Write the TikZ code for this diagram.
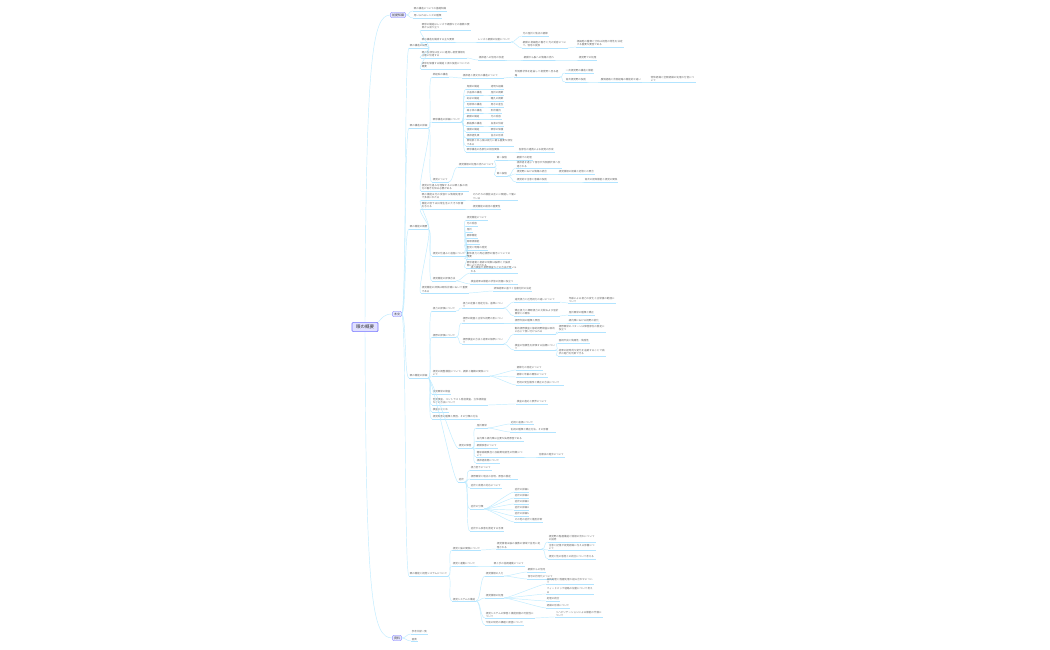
\documentclass[tikz,border=0pt]{standalone}
\usepackage{fontspec}
\newfontfamily\cjk{Noto Sans CJK JP}
\XeTeXlinebreaklocale "ja"
\XeTeXlinebreakskip=0pt plus 1pt
\begin{document}
\begin{tikzpicture}[x=1pt,y=-1pt,
 leaf/.style={anchor=south west,inner sep=0.6pt,font=\cjk\fontsize{2.5}{3.1}\selectfont,text=black!60,align=left},
 ul/.style={draw=blue!35!cyan!30,line width=0.5pt},
 cn/.style={draw=blue!30!cyan!25,line width=0.45pt},
 box/.style={draw=blue!45,fill=blue!10,rounded corners=1pt,inner sep=1.4pt,font=\cjk\fontsize{3}{4}\selectfont,text=black!75},
 rootb/.style={draw=blue!55,fill=blue!12,rounded corners=1pt,line width=0.6pt,inner xsep=4pt,inner ysep=2.5pt,font=\cjk\fontsize{4.5}{5}\selectfont,text=black!80}]
\newcommand\mm[5][]{\node[leaf,#1] (#2) at (#4) {#5};
 \draw[ul] (#2.south west)--(#2.south east);
 \draw[cn] (#3.south east) .. controls +(5,0) and +(-5,0) .. (#2.south west);}
\useasboundingbox (0,0) rectangle (1050,650);
\fill[white] (0,0) rectangle (1050,650);
% root and main boxes
\node[rootb] (R) at (365,327) {眼の概要};
\node[box] (A) at (398,15) {前提知識};
\node[box] (B) at (397,314) {本文};
\node[box] (C) at (397,638) {資料};
\coordinate (AE) at (A.east); \coordinate (BE) at (B.east); \coordinate (CE) at (C.east);
\draw[cn] (R.north) .. controls (366,60) and (372,15) .. (A.west);
\draw[cn] (R.north east) .. controls (382,318) and (384,314) .. (B.west);
\draw[cn] (R.south) .. controls (366,600) and (372,638) .. (C.west);
% A
\mm{A1}{AE}{413,11}{眼の構造についての基礎知識}
\mm{A2}{AE}{413,18}{用いられるレンズの種類}
% C
\mm{C1}{CE}{411,634}{参考文献一覧}
\mm{C2}{CE}{411,641}{図表}
% B level 2
\mm{B1}{BE}{409,48}{眼の構造の概要}
\mm{B2}{BE}{409,128}{眼の構造の詳細}
\mm{B3}{BE}{409,229}{眼の機能の概要}
\mm{B4}{BE}{409,378}{眼の機能の詳細}
\mm{B5}{BE}{409,576}{眼の機能と視覚システムについて}
% B1
\mm[text width=48pt]{B1a}{B1}{421,30}{眼球の構造はレンズや網膜などの複数の要素から成り立つ}
\mm{B1b}{B1}{421,42}{眼の構造を構成する主な要素}
\mm{B1b1}{B1b}{477,42}{レンズと網膜の役割について}
\mm{B1b1a}{B1b1}{522,36}{光の屈折と焦点の調節}
\mm[text width=44pt]{B1b1b}{B1b1}{522,48}{網膜の視細胞の働きと光の受容について、信号の変換}
\mm[text width=46pt]{B1b1b1}{B1b1b}{576,47}{視細胞の種類と分布は視覚の特性を決定する重要な要因である}
\mm[text width=44pt]{B1c}{B1}{421,58}{眼の各部位は互いに連携し視覚情報を正確に伝達する}
\mm{B1c1}{B1c}{478,60}{視神経への信号の伝達}
\mm{B1c1a}{B1c1}{523,60}{網膜から脳への情報の流れ}
\mm{B1c1a1}{B1c1a}{578,60}{視覚野での処理}
\mm[text width=48pt]{B1d}{B1}{421,69}{眼球を保護する構造と涙の役割についての概要}
% B2
\mm{B2a}{B2}{432,77}{神経系の構造}
\mm[text width=40pt]{B2a1}{B2a}{462,78}{視神経と視交叉の構造について}
\mm[text width=44pt]{B2a1a}{B2a1}{514,77}{外側膝状体を経由して視覚野へ至る経路}
\mm{B2a1a1}{B2a1a}{565,73}{一次視覚野の構造と機能}
\mm{B2a1a2}{B2a1a}{565,82}{高次視覚野の役割}
\mm[text width=40pt]{B2a1a3}{B2a1a2}{600,82}{腹側経路と背側経路の機能的な違い}
\mm[text width=44pt]{B2a1a4}{B2a1a3}{650,82}{物体認識と空間認識の処理の分担について}
\mm{B2b}{B2}{432,122}{眼球構造の詳細について}
\foreach \i/\y/\ta/\tb in {1/89/角膜の構造/透明な組織,2/95/水晶体の構造/屈折の調節,3/101/虹彩の構造/瞳孔の調節,4/107/毛様体の構造/房水の産生,5/113/硝子体の構造/形状維持,6/119/網膜の構造/光の受容,7/126/脈絡膜の構造/血液の供給,8/132/強膜の構造/眼球の保護,9/138/視神経乳頭/盲点の形成}{
 \mm{L\i}{B2b}{466,\y}{\ta}
 \mm{R\i}{L\i}{490,\y}{\tb}
}
\mm[text width=46pt]{L10}{B2b}{466,146}{黄斑部と中心窩は視力に最も重要な部位である}
\mm{L11}{B2b}{466,152}{眼球構造の各部位の相互関係}
\mm{L11a}{L11}{518,152}{各部位の連携による視覚の形成}
\mm{B2c}{B2}{432,182}{視覚について}
\mm{B2c1}{B2c}{458,167}{視覚情報の処理の流れについて}
\mm{B2c1a}{B2c1}{496,160}{第一段階}
\mm{B2c1a1}{B2c1a}{516,160}{網膜での処理}
\mm{B2c1b}{B2c1}{496,176}{第二段階}
\mm[text width=44pt]{B2c1b1}{B2c1b}{516,168}{視神経を通じて信号が外側膝状体へ伝達される}
\mm{B2c1b2}{B2c1b}{516,174}{視覚野における情報の統合}
\mm{B2c1b3}{B2c1b2}{558,174}{視覚情報の認識と記憶との照合}
\mm{B2c1b4}{B2c1b}{516,182}{視覚的な注意と意識の役割}
\mm{B2c1b5}{B2c1b4}{584,182}{高次の認知機能と視覚の関係}
\mm[text width=46pt]{B2d}{B2}{421,191}{視覚の仕組みを理解するには眼と脳の両方の働きを知る必要がある}
% B3
\mm[text width=42pt]{B3a}{B3}{421,200}{眼の機能は光の受容から情報処理まで多岐にわたる}
\mm[text width=44pt]{B3a1}{B3a}{472,200}{それぞれの機能は互いに関連して働いている}
\mm[text width=42pt]{B3b}{B3}{421,209}{機能の低下は日常生活に大きな影響を与える}
\mm{B3b1}{B3b}{472,209}{視覚機能の維持の重要性}
\mm{B3c}{B3}{432,256}{視覚の仕組みと過程について}
\mm{B3c0}{B3c}{466,220}{視覚機能について}
\foreach \i/\y/\t in {1/226/光の受容,2/232/屈折,3/238/調節機能,4/244/両眼視機能,5/250/色覚と明暗の感覚}{
 \mm{M\i}{B3c}{466,\y}{\t}
}
\mm[text width=44pt]{M6}{B3c}{466,259}{動体視力と周辺視野の働きについての概要}
\mm[text width=44pt]{M7}{B3c}{466,268}{眼球運動と視線の制御は脳幹と大脳皮質により行われる}
\mm{B3d}{B3}{432,281}{視覚機能の評価方法}
\mm[text width=46pt]{B3d1}{B3d}{470,273}{視力検査や視野検査などの方法が用いられる}
\mm[text width=46pt]{B3d2}{B3d}{470,284}{検査結果は機能の状態の把握に役立つ}
\mm[text width=46pt]{B3e}{B3}{421,293}{視覚機能の評価は眼科診療において重要である}
\mm{B3e1}{B3e}{493,291}{評価結果に基づく治療方針の決定}
% B4
\mm{B4a}{B4}{432,311}{視力の評価について}
\mm[text width=40pt]{B4a1}{B4a}{462,308}{視力の定義と測定方法、基準について}
\mm[text width=44pt]{B4a1a}{B4a1}{514,302}{遠見視力と近見視力の違いについて}
\mm[text width=46pt]{B4a1a1}{B4a1a}{568,303}{年齢による視力の変化と正常値の範囲について}
\mm[text width=44pt]{B4a1b}{B4a1}{514,316}{矯正視力と裸眼視力の比較および屈折異常との関係}
\mm{B4a1b1}{B4a1b}{568,315}{屈折異常の種類と矯正}
\mm{B4b}{B4}{432,337}{視野の評価について}
\mm[text width=40pt]{B4b1}{B4b}{462,323}{視野の範囲と正常な視野の形について}
\mm{B4b1a}{B4b1}{514,323}{視野欠損の種類と原因}
\mm{B4b1b}{B4b1a}{568,323}{緑内障における視野の変化}
\mm[text width=40pt]{B4b2}{B4b}{462,344}{視野検査の方法と結果の解釈について}
\mm[text width=40pt]{B4b2a}{B4b2}{514,334}{動的視野検査と静的視野検査は目的に応じて使い分けられる}
\mm[text width=46pt]{B4b2a1}{B4b2a}{558,332}{視野異常のパターンは障害部位の推定に役立つ}
\mm[text width=40pt]{B4b2b}{B4b2}{514,350}{検査の信頼性を評価する指標について}
\mm{B4b2b1}{B4b2b}{558,343}{固視不良と偽陽性・偽陰性}
\mm[text width=46pt]{B4b2b2}{B4b2b}{558,356}{結果の経時的な変化を追跡することで病状の進行を判断できる}
\mm[text width=56pt]{B4c}{B4}{432,376}{視覚の調整機能について、調節と輻輳の関係について}
\mm{B4c1}{B4c}{516,370}{調節力の測定について}
\mm{B4c2}{B4c}{516,377}{調節と年齢の関係について}
\mm[text width=46pt]{B4c3}{B4c}{516,385}{老視の発生機序と矯正の方法について}
\mm{B4d}{B4}{432,394}{視覚異常の検査}
\mm[text width=54pt]{B4e}{B4}{432,405}{色覚検査、コントラスト感度検査、立体視検査などの方法について}
\mm{B4e1}{B4e}{516,404}{検査の適応と限界について}
\mm{B4f}{B4}{432,412}{検査のまとめ}
\mm[text width=46pt]{B4g}{B4}{432,419}{視覚障害の種類と原因、その分類の方法}
\mm{B4h}{B4}{458,448}{視覚の障害}
\mm{B4h1}{B4h}{476,428}{屈折異常}
\mm{B4h1a}{B4h1}{510,424}{近視と遠視について}
\mm[text width=44pt]{B4h1b}{B4h1}{510,432}{乱視の種類と矯正方法、その影響}
\mm[text width=46pt]{B4h2}{B4h}{476,441}{白内障と緑内障は主要な失明原因である}
\mm{B4h3}{B4h}{476,448}{網膜疾患について}
\mm[text width=46pt]{B4h4}{B4h}{476,457}{糖尿病網膜症と加齢黄斑変性の特徴について}
\mm{B4h4a}{B4h4}{538,457}{治療法の進歩について}
\mm{B4h5}{B4h}{476,463}{視神経疾患について}
\mm{B4i}{B4}{458,482}{症状}
\mm{B4i1}{B4i}{470,470}{視力低下について}
\mm[text width=46pt]{B4i2}{B4i}{470,479}{視野異常と暗点の出現、原因の推定}
\mm{B4i3}{B4i}{470,488}{症状と疾患の対応について}
\mm{B4i4}{B4i}{470,509}{症状の分類}
\foreach \i/\y in {1/492,2/498,3/504,4/510,5/516}{
 \mm{S\i}{B4i4}{514,\y}{症状の詳細\i}
}
\mm{S6}{B4i4}{514,522}{その他の症状と鑑別診断}
\mm{B4i5}{B4i}{470,531}{症状から疾患を推定する手順}
% B5
\mm{B5a}{B5}{452,550}{視覚と脳の関係について}
\mm[text width=44pt]{B5a1}{B5a}{496,549}{視覚情報は脳の複数の領域で並列に処理される}
\mm[text width=46pt]{B5a1a}{B5a1}{548,542}{視覚野の階層構造と情報の流れについての説明}
\mm[text width=46pt]{B5a1b}{B5a1}{548,550}{注意と記憶が視覚認識に与える影響について}
\mm[text width=46pt]{B5a1c}{B5a1}{548,559}{視覚と他の感覚との統合について考える}
\mm{B5b}{B5}{452,566}{視覚と運動について}
\mm{B5b1}{B5b}{493,566}{眼と手の協調運動について}
\mm{B5c}{B5}{452,601}{視覚システムの構造}
\mm{B5c1}{B5c}{485,576}{視覚情報の入力}
\mm{B5c1a}{B5c1}{527,572}{網膜からの信号}
\mm{B5c1b}{B5c1}{527,579}{信号の符号化について}
\mm{B5c2}{B5c}{485,598}{視覚情報の処理}
\mm[text width=46pt]{B5c2a}{B5c2}{546,584}{並列処理と階層処理の組み合わせについて}
\mm[text width=46pt]{B5c2b}{B5c2}{546,594}{フィードバック経路の役割について考える}
\mm{B5c2c}{B5c2}{546,601}{処理の統合}
\mm{B5c2d}{B5c2}{546,608}{認識の形成について}
\mm[text width=48pt]{B5c3}{B5c}{485,618}{視覚システムの障害と機能回復の可能性について}
\mm[text width=46pt]{B5c3a}{B5c3}{555,617}{リハビリテーションによる機能の代償について}
\mm{B5c4}{B5c}{485,625}{今後の研究の課題と展望について}
\end{tikzpicture}
\end{document}
